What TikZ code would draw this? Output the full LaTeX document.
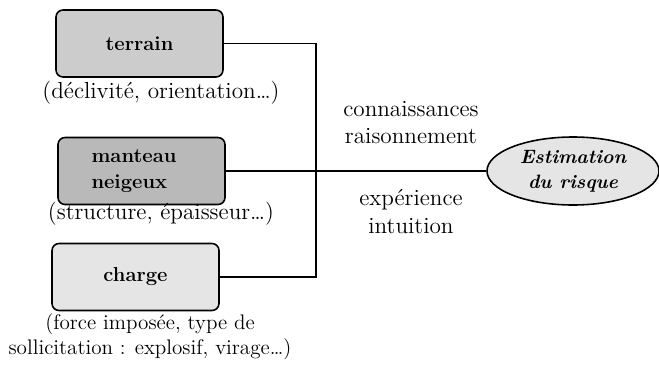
\documentclass[tikz,border=0pt]{standalone}
\usetikzlibrary{shapes.geometric}
\begin{document}
\begin{tikzpicture}[line width=0.8pt, font=\fontsize{13.2}{15.5}\selectfont,
	boite/.style={draw=black, rounded corners=4pt, line width=0.9pt,
		minimum width=3.34cm, minimum height=1.34cm, font=\fontsize{11.5}{14.5}\selectfont\bfseries},
	legende/.style={align=center, inner sep=0pt},
	liaison/.style={line width=0.9pt, black},
	]
	
	\def\xb{6.32}   % abscisse du trait vertical
	\def\yc{-3.42}  % ordonnee du trait central
	
	%% ── Cadre ────────────────────────────────────────────────────────────────
	\useasboundingbox (0,0) rectangle (13.18,-7.30);
	
	%% ── Facteurs ─────────────────────────────────────────────────────────────
	\node[boite, fill=gray!40] (terrain) at (2.79,-0.87) {terrain};
	\node[boite, fill=gray!55, align=left, text width=2.0cm] (manteau) at (2.83,\yc) {manteau\\neigeux};
	\node[boite, fill=gray!20] (charge) at (2.71,-5.54) {charge};
	
	%% ── Legendes des facteurs ────────────────────────────────────────────────
	\node[legende] (ltSet) at (3.22,-1.86) {(déclivité, orientation…)};
	\node[legende] (lmSet) at (3.22,-4.28) {(structure, épaisseur…)};
	\node[legende, font=\fontsize{12}{14.2}\selectfont] (lcSet) at (3.00,-6.74)
		{(force imposée, type de\\sollicitation : explosif, virage…)};
	
	%% ── Estimation ───────────────────────────────────────────────────────────
	\node[ellipse, draw=black, fill=gray!20, line width=0.9pt,
		minimum width=3.44cm, minimum height=1.36cm, inner sep=0pt,
		font=\fontsize{11}{14}\selectfont\bfseries\itshape, align=center]
		(risque) at (11.46,\yc) {Estimation\\du risque};
	
	%% ── Liaisons ─────────────────────────────────────────────────────────────
	\coordinate (jonction) at (\xb,\yc);
	\draw[liaison] (terrain.east) -| (jonction);
	\draw[liaison] (charge.east) -| (jonction);
	\draw[liaison] (manteau.east) -- (risque.west);
	
	%% ── Modes de raisonnement ────────────────────────────────────────────────
	\node[legende] (savoir) at (8.22,-2.45) {connaissances\\raisonnement};
	\node[legende] (vecu) at (8.22,-4.23) {expérience\\intuition};
	
\end{tikzpicture}
\end{document}
